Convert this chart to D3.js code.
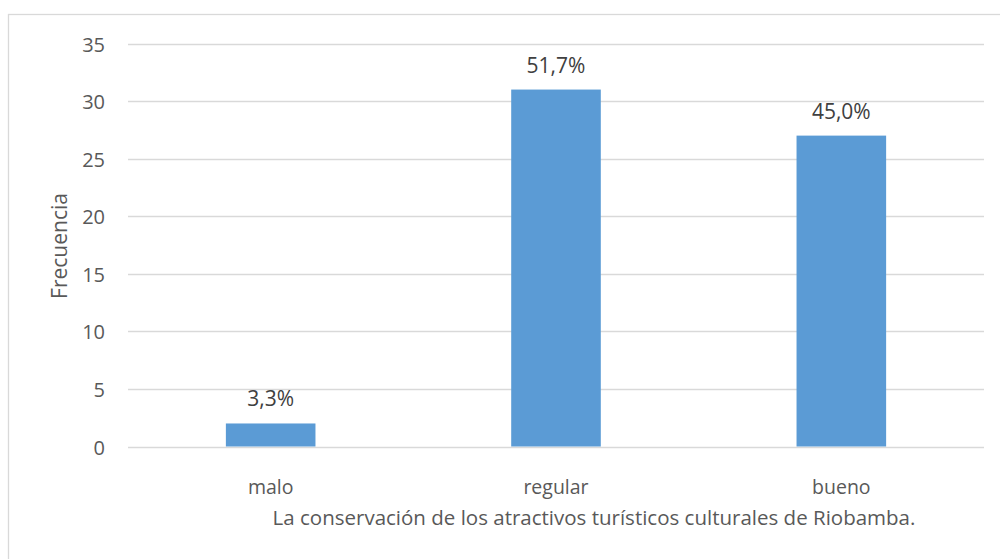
<!DOCTYPE html>
<html><head><meta charset="utf-8">
<script src="https://cdn.jsdelivr.net/npm/d3@7"></script>
<style>body{margin:0;background:#fff}svg{display:block}text{font-family:"Open Sans",sans-serif;fill:#595959}</style>
</head><body><svg id="c" width="1000" height="559"></svg>
<script>
const categories = ["malo","regular","bueno"];
const values = [2,31,27];
const pctLabels = ["3,3%","51,7%","45,0%"];
const yTicks = [0,5,10,15,20,25,30,35];
const xTitle = "La conservación de los atractivos turísticos culturales de Riobamba.";
const yTitle = "Frecuencia";

const svg = d3.select("#c");
svg.append("rect").attr("x",8.5).attr("y",14.5).attr("width",1000).attr("height",600)
  .attr("fill","none").attr("stroke","#d9d9d9").attr("stroke-width",1.3);

const L=128,R=984,T=43.5,B=446.5;
const x = d3.scaleBand().domain(categories).range([L,R]).paddingInner(0.686).paddingOuter(0.343);
const y = d3.scaleLinear().domain([0,35]).range([B,T]);

svg.append("g").selectAll("line").data(yTicks).join("line")
  .attr("x1",L).attr("x2",R).attr("y1",d=>Math.round(y(d))+0.5).attr("y2",d=>Math.round(y(d))+0.5)
  .attr("stroke","#d9d9d9").attr("stroke-width",1.3);

svg.append("g").selectAll("text").data(yTicks).join("text")
  .attr("x",105).attr("y",d=>y(d)+8).attr("text-anchor","end")
  .attr("font-size",20).text(d=>d);

svg.append("g").selectAll("rect").data(values).join("rect")
  .attr("x",(d,i)=>x(categories[i])).attr("width",x.bandwidth())
  .attr("y",d=>y(d)).attr("height",d=>B-y(d)).attr("fill","#5b9bd5");

svg.append("g").selectAll("text").data(values).join("text")
  .attr("x",(d,i)=>x(categories[i])+x.bandwidth()/2).attr("y",d=>y(d)-17)
  .attr("text-anchor","middle").attr("font-size",21).style("fill","#404040")
  .text((d,i)=>pctLabels[i]);

svg.append("g").selectAll("text").data(categories).join("text")
  .attr("x",d=>x(d)+x.bandwidth()/2).attr("y",494)
  .attr("text-anchor","middle").attr("font-size",19.5).text(d=>d);

svg.append("text").attr("x",594).attr("y",525).attr("text-anchor","middle")
  .attr("font-size",20.5).text(xTitle);

svg.append("text").attr("transform","translate(67,246) rotate(-90)").attr("text-anchor","middle")
  .attr("font-size",21).text(yTitle);
</script></body></html>
